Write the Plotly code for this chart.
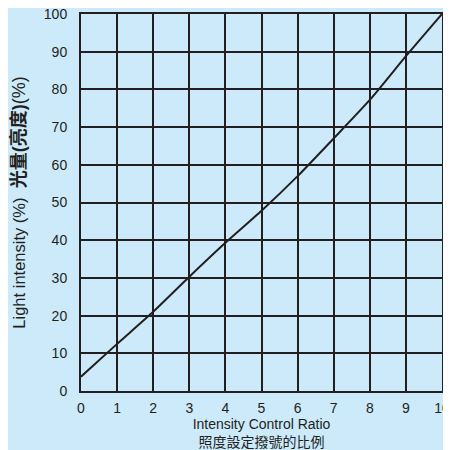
import plotly.graph_objects as go

ratio = [0, 1, 2, 3, 4, 5, 6, 7, 8, 9, 10]
light = [3.8, 12.5, 21, 30.3, 39.3, 47.8, 57, 67, 77.2, 88.8, 100]

x_ticks = list(range(0, 11))
y_ticks = list(range(0, 101, 10))

bg = "#cceafa"
ink = "#231f20"

fig = go.Figure()
fig.add_trace(go.Scatter(x=ratio, y=light, mode="lines",
                         line=dict(color=ink, width=2, shape="spline", smoothing=0.6),
                         showlegend=False, hoverinfo="skip", cliponaxis=False))

axis_common = dict(showgrid=True, gridcolor=ink, gridwidth=2,
                   showline=True, linecolor=ink, linewidth=2, mirror=True,
                   zeroline=False, ticks="", automargin=False,
                   ticklabeloverflow="allow",
                   tickfont=dict(family="Liberation Sans, Arial", size=14, color=ink))

fig.update_layout(
    width=443, height=442,
    paper_bgcolor=bg, plot_bgcolor=bg,
    margin=dict(l=73, r=9, t=6, b=59),
    xaxis=dict(range=[0, 10], tickvals=x_ticks, ticklabelstandoff=3,
               title=dict(text="Intensity Control Ratio<br>照度設定撥號的比例",
                          font=dict(family="Liberation Sans, Noto Sans CJK TC", size=14, color=ink),
                          standoff=7),
               **axis_common),
    yaxis=dict(range=[0, 100], tickvals=y_ticks, ticklabelstandoff=9,
               title=dict(text="Light intensity (%)  <span style='font-size:18px'><b>光量(亮度)</b>(%)</span>",
                          font=dict(family="Liberation Sans, Noto Sans CJK TC", size=16.5, color=ink),
                          standoff=15),
               **axis_common),
)

fig.write_html("out.html")
